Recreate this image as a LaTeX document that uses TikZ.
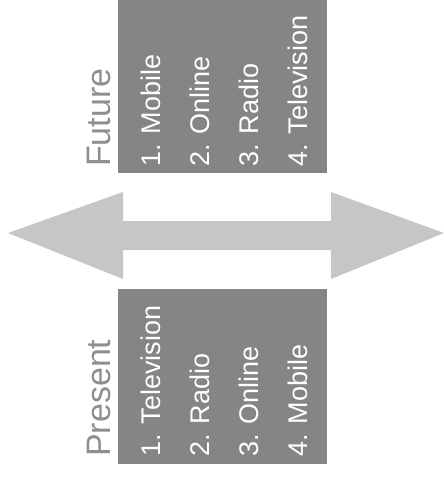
\documentclass[tikz,border=0pt]{standalone}
\usepackage{fontspec}
\setmainfont{Liberation Sans}
\definecolor{panelgray}{HTML}{858585}
\definecolor{arrowgray}{HTML}{C6C6C6}
\definecolor{titlegray}{HTML}{8E8E8E}
\tikzset{
  panel/.style={rectangle, fill=panelgray, draw=none, inner sep=0pt, minimum width=209pt, minimum height=#1},
  heading/.style={rotate=90, anchor=base west, inner sep=0pt, text=titlegray, font=\fontsize{34}{38}\selectfont},
  entry/.style={rotate=90, anchor=base west, inner sep=0pt, text=white, font=\fontsize{27}{30}\selectfont},
}
\begin{document}
\begin{tikzpicture}[x=1pt,y=-1pt]
\useasboundingbox (0,0) rectangle (444,477);

% two-way arrow between the panels
\fill[arrowgray] (8,233) -- (123,192) -- (123,221) -- (331,221) -- (331,192)
  -- (444,233) -- (331,279) -- (331,250) -- (123,250) -- (123,279) -- cycle;

% panels
\node[panel=173pt] (futurepanel) at (222.5,86.5) {};
\node[panel=175pt] (presentpanel) at (222.5,376.5) {};

% future column
\node[heading] (futurehead) at (110,167) {Future};
\node[entry] (f1) at (160,167) {1. Mobile};
\node[entry] (f2) at (209,167) {2. Online};
\node[entry] (f3) at (258,167) {3. Radio};
\node[entry] (f4) at (307,167) {4. Television};

% present column
\node[heading] (presenthead) at (110,457) {Present};
\node[entry] (p1) at (160,457) {1. Television};
\node[entry] (p2) at (209,457) {2. Radio};
\node[entry] (p3) at (258,457) {3. Online};
\node[entry] (p4) at (307,457) {4. Mobile};
\end{tikzpicture}
\end{document}
